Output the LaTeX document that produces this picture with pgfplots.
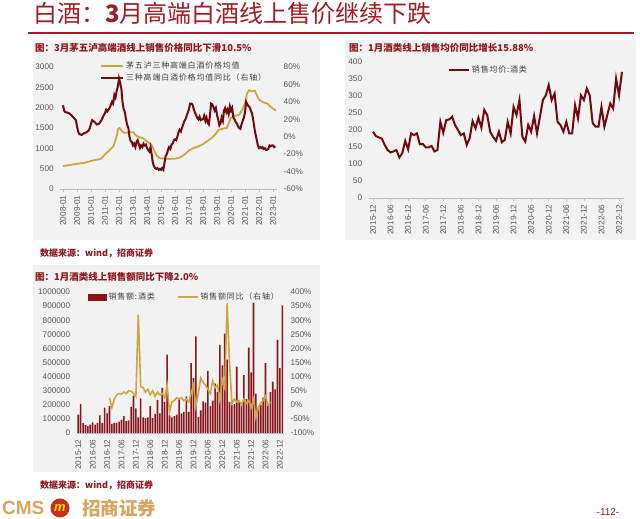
\documentclass[border=0pt]{standalone}
\usepackage{pgfplots}
\usepackage{pgfplotstable}
\pgfplotsset{compat=1.18}
\usepackage{fontspec}
\setmainfont{Liberation Sans}
\newfontfamily\cjk{Noto Sans CJK SC}
\newfontfamily\cjkleg{Noto Sans CJK SC}[LetterSpace=10]
\definecolor{titred}{RGB}{160,30,35}
\definecolor{dred}{RGB}{140,25,30}
\definecolor{gold}{RGB}{205,165,65}
\definecolor{wine}{RGB}{112,10,16}
\definecolor{barred}{RGB}{135,22,26}
\definecolor{panel}{RGB}{242,242,242}
\definecolor{ticktxt}{RGB}{89,89,89}
\definecolor{legtxt}{RGB}{64,64,64}
\definecolor{axgray}{RGB}{191,191,191}
\definecolor{logogold}{RGB}{214,165,95}
\definecolor{logored}{RGB}{200,45,30}

\pgfplotsset{
  /pgf/number format/assume math mode=true,
  /pgf/number format/1000 sep={},
  cms/.style={
    scale only axis,
    anchor=south west,
    tick label style={font=\fontsize{8.2}{9}\selectfont, text=ticktxt},
    major tick length=3pt,
    tick align=outside,
    clip=false,
  },
  leg/.style={legend style={draw=none, fill=none, font=\cjkleg\fontsize{8}{9}\selectfont, text=legtxt, cells={anchor=west}, inner sep=0pt, row sep=0pt}},
}

% Chart 1: gold = price average (left axis), red = YoY (right axis)
\pgfplotstableread{
x y
2008.0 565
2008.5 590
2009.0 620
2009.5 640
2010.0 690
2010.4 720
2010.7 740
2011.0 850
2011.3 950
2011.6 1050
2011.8 1250
2011.95 1480
2012.05 1500
2012.2 1420
2012.4 1380
2012.7 1390
2013.0 1400
2013.2 1320
2013.4 1280
2013.7 1250
2014.0 1170
2014.3 1100
2014.5 950
2014.7 820
2014.9 760
2015.2 750
2015.6 740
2016.0 745
2016.4 780
2016.7 850
2017.0 950
2017.3 1000
2017.7 1050
2018.0 1100
2018.3 1180
2018.6 1250
2018.9 1350
2019.1 1450
2019.4 1480
2019.7 1500
2020.0 1750
2020.3 1800
2020.6 1830
2020.8 1950
2021.0 2100
2021.15 2350
2021.3 2430
2021.5 2400
2021.7 2420
2021.85 2300
2022.0 2200
2022.3 2130
2022.6 2100
2022.9 2000
2023.2 1930
}\goldA

\pgfplotstableread{
x y
2008.00 36
2008.08 30
2008.17 28
2008.25 28
2008.42 27
2008.58 25
2008.75 22
2008.92 19
2009.00 12
2009.08 6
2009.17 3
2009.33 2
2009.50 4
2009.67 5
2009.83 7
2009.92 10
2010.00 15
2010.08 19
2010.25 17
2010.42 14
2010.58 15
2010.75 19
2010.92 25
2011.00 27
2011.08 31
2011.17 29
2011.33 33
2011.50 40
2011.58 38
2011.67 48
2011.75 45
2011.83 52
2011.92 58
2012.00 67
2012.08 62
2012.17 55
2012.25 40
2012.33 32
2012.42 28
2012.50 20
2012.58 14
2012.67 10
2012.75 0
2012.83 -5
2012.92 -6
2013.00 -10
2013.08 -8
2013.17 -12
2013.25 -6
2013.33 -4
2013.42 -9
2013.50 -13
2013.58 -10
2013.67 -12
2013.75 -8
2013.83 -10
2013.92 -9
2014.00 -13
2014.08 -15
2014.17 -17
2014.25 -12
2014.33 -20
2014.42 -30
2014.50 -34
2014.58 -36
2014.67 -37
2014.75 -36
2014.83 -38
2014.92 -37
2015.00 -38
2015.08 -36
2015.17 -38
2015.25 -30
2015.33 -22
2015.42 -20
2015.50 -15
2015.58 -12
2015.67 -14
2015.75 -9
2015.83 -8
2015.92 -4
2016.00 -3
2016.08 -4
2016.17 0
2016.25 5
2016.33 8
2016.42 6
2016.50 10
2016.58 14
2016.67 18
2016.75 20
2016.83 24
2016.92 28
2017.00 32
2017.08 38
2017.17 38
2017.25 37
2017.33 32
2017.42 28
2017.50 25
2017.58 22
2017.67 20
2017.75 23
2017.83 19
2017.92 20
2018.00 20
2018.08 24
2018.17 18
2018.25 22
2018.33 16
2018.42 14
2018.50 25
2018.58 38
2018.67 37
2018.75 34
2018.83 30
2018.92 33
2019.00 25
2019.08 20
2019.17 13
2019.25 15
2019.33 22
2019.42 18
2019.50 30
2019.58 33
2019.67 28
2019.75 31
2019.83 26
2019.92 35
2020.00 30
2020.08 33
2020.17 22
2020.25 20
2020.33 17
2020.42 15
2020.50 12
2020.58 10
2020.67 9
2020.75 14
2020.83 18
2020.92 22
2021.00 28
2021.08 40
2021.17 37
2021.25 35
2021.33 34
2021.42 30
2021.50 27
2021.58 20
2021.67 10
2021.75 3
2021.83 -3
2021.92 -10
2022.00 -13
2022.08 -12
2022.17 -13
2022.25 -12
2022.33 -14
2022.42 -13
2022.50 -15
2022.58 -15
2022.67 -14
2022.75 -10
2022.83 -11
2022.92 -10
2023.00 -10
2023.08 -12
2023.17 -11
}\redA

% Chart 2: monthly average price, index 0 = 2015-12
\pgfplotstableread{
x y
0 195
1 182
2 178
3 175
4 156
5 141
6 134
7 137
8 141
9 119
10 132
11 168
12 143
13 190
14 185
15 190
16 158
17 159
18 149
19 149
20 153
21 137
22 141
23 224
24 192
25 229
26 231
27 239
28 215
29 200
30 185
31 190
32 156
33 176
34 226
35 205
36 236
37 207
38 259
39 244
40 195
41 180
42 168
43 195
44 164
45 171
46 224
47 190
48 268
49 244
50 288
51 180
52 166
53 215
54 195
55 241
56 190
57 239
58 288
59 302
60 332
61 288
62 307
63 224
64 215
65 195
66 224
67 190
68 190
69 273
70 234
71 302
72 288
73 322
74 302
75 220
76 210
77 210
78 268
79 210
80 244
81 278
82 263
83 351
84 302
85 371
}\priceB

% Chart 3: monthly sales (bars) index 0 = 2015-12
\pgfplotstableread{
x y
0 130000
1 205000
2 70000
3 55000
4 48000
5 60000
6 75000
7 60000
8 70000
9 125000
10 70000
11 180000
12 140000
13 190000
14 65000
15 70000
16 72000
17 80000
18 95000
19 120000
20 85000
21 90000
22 185000
23 265000
24 175000
25 110000
26 245000
27 110000
28 105000
29 110000
30 190000
31 105000
32 135000
33 235000
34 140000
35 320000
36 220000
37 555000
38 125000
39 110000
40 120000
41 130000
42 240000
43 140000
44 150000
45 260000
46 150000
47 495000
48 390000
49 685000
50 115000
51 160000
52 225000
53 215000
54 440000
55 190000
56 230000
57 350000
58 290000
59 625000
60 480000
61 705000
62 520000
63 220000
64 200000
65 205000
66 470000
67 220000
68 200000
69 410000
70 240000
71 605000
72 430000
73 925000
74 280000
75 180000
76 200000
77 250000
78 495000
79 210000
80 290000
81 365000
82 310000
83 660000
84 460000
85 905000
}\salesC

\pgfplotstableread{
x y
13 25
14 -10
15 20
16 35
17 40
18 38
19 45
20 40
21 50
22 48
23 40
24 30
25 320
26 65
27 60
28 45
29 55
30 35
31 50
32 30
33 45
34 35
35 40
36 25
37 70
38 -25
39 10
40 15
41 25
42 20
43 25
44 15
45 20
46 10
47 40
48 70
49 -5
50 40
51 95
52 80
53 70
54 55
55 40
56 85
57 60
58 70
59 15
60 90
61 60
62 360
63 150
64 5
65 20
66 10
67 15
68 0
69 20
70 5
71 15
72 -10
73 20
74 -45
75 -10
76 5
77 15
78 30
79 0
80 10
}\yoyC

\begin{document}
\begin{tikzpicture}[x=1pt,y=1pt]
\path[fill=white] (0pt,0pt) rectangle (640pt,519pt);
% header
\node[anchor=west, inner sep=0pt, text=titred] at (33pt,506pt) {\cjk\fontsize{24}{24}\selectfont 白酒：\textbf{3}月高端白酒线上售价继续下跌};
\draw[titred, line width=1.5pt] (28pt,486pt) -- (634pt,486pt);
% panels
\fill[panel] (33pt,279pt) rectangle (320pt,479pt);
\fill[panel] (345pt,279pt) rectangle (636pt,479pt);
\fill[panel] (33pt,47pt) rectangle (320pt,254pt);
\node[anchor=west, inner sep=0pt, text=dred] at (35pt,471pt) {\cjk\bfseries\fontsize{9.5}{10}\selectfont 图：3月茅五泸高端酒线上销售价格同比下滑10.5\%};
\node[anchor=west, inner sep=0pt, text=dred] at (349pt,471pt) {\cjk\bfseries\fontsize{9.5}{10}\selectfont 图：1月酒类线上销售均价同比增长15.88\%};
\node[anchor=west, inner sep=0pt, text=dred] at (35pt,242pt) {\cjk\bfseries\fontsize{9.5}{10}\selectfont 图：1月酒类线上销售额同比下降2.0\%};
\node[anchor=west, inner sep=0pt, text=dred] at (40pt,266pt) {\cjk\bfseries\fontsize{9}{10}\selectfont 数据来源：wind，招商证券};
\node[anchor=west, inner sep=0pt, text=dred] at (40pt,34pt) {\cjk\bfseries\fontsize{9}{10}\selectfont 数据来源：wind，招商证券};
% footer
\node[anchor=west, inner sep=0pt, text=logogold] at (2pt,11pt) {\fontsize{19}{19}\selectfont\bfseries CMS};
\fill[logored] (60pt,11pt) circle (9.5pt);
\node[text=yellow!80!orange, inner sep=0pt] at (60pt,11pt) {\fontsize{13}{13}\selectfont\bfseries\itshape m};
\node[anchor=west, inner sep=0pt, text=logogold] at (82pt,11pt) {\cjk\bfseries\fontsize{18.5}{19}\selectfont 招商证券};
\node[text=dred, inner sep=0pt] at (608pt,7pt) {\fontsize{10}{10}\selectfont -112-};

% ---------- Chart 1 ----------
\begin{axis}[cms, at={(60.2pt,330pt)}, width=217pt, height=122pt,
  xmin=2007.8, xmax=2023.3, ymin=0, ymax=3000,
  axis x line*=bottom, axis y line*=left,
  x axis line style={draw=axgray, line width=0.6pt},
  y axis line style={draw=none},
  xtick={2008,...,2023},
  xticklabels={2008-01,2009-01,2010-01,2011-01,2012-01,2013-01,2014-01,2015-01,2016-01,2017-01,2018-01,2019-01,2020-01,2021-01,2022-01,2023-01},
  xticklabel style={rotate=90, anchor=east},
  x tick style={draw=axgray, line width=0.6pt},
  ytick={0,500,...,3000}, y tick style={draw=none},
]
\addplot[gold, line width=1.8pt] table {\goldA};
\end{axis}
\begin{axis}[cms, at={(60.2pt,330pt)}, width=217pt, height=122pt,
  xmin=2007.8, xmax=2023.3, ymin=-60, ymax=80,
  axis x line=none, axis y line*=right, y axis line style={draw=none},
  ytick={-60,-40,...,80}, y tick style={draw=none},
  yticklabel={\pgfmathprintnumber{\tick}\%},
  leg, legend style={at={(0.183,1.06)}, anchor=north west},
]
\addlegendimage{legend image code/.code={\draw[gold, line width=1.8pt] (0pt,0pt) -- (22pt,0pt);}}
\addlegendentry{茅五泸三种高端白酒价格均值}
\addplot[wine, line width=2pt, legend image code/.code={\draw[wine, line width=2pt] (0pt,0pt) -- (22pt,0pt);}] table {\redA};
\addlegendentry{三种高端白酒价格均值同比（右轴）}
\end{axis}

% ---------- Chart 2 ----------
\begin{axis}[cms, at={(368.6pt,321pt)}, width=255.4pt, height=136pt,
  xmin=-1.5, xmax=85.7, ymin=0, ymax=400,
  axis x line*=bottom, axis y line*=left,
  x axis line style={draw=axgray, line width=0.6pt},
  y axis line style={draw=none},
  xtick={0,6,...,84},
  xticklabels={2015-12,2016-06,2016-12,2017-06,2017-12,2018-06,2018-12,2019-06,2019-12,2020-06,2020-12,2021-06,2021-12,2022-06,2022-12},
  xticklabel style={rotate=90, anchor=east},
  x tick style={draw=axgray, line width=0.6pt},
  ytick={0,50,...,400}, y tick style={draw=none},
  leg, legend style={at={(0.31,0.985)}, anchor=north west},
]
\addplot[wine, line width=2pt, legend image code/.code={\draw[wine, line width=2pt] (0pt,0pt) -- (20pt,0pt);}] table {\priceB};
\addlegendentry{销售均价:酒类}
\end{axis}

% ---------- Chart 3 ----------
\begin{axis}[cms, at={(76.6pt,86pt)}, width=207.4pt, height=141pt,
  xmin=-0.7, xmax=85.7, ymin=0, ymax=1000000,
  scaled y ticks=false,
  axis x line*=bottom, axis y line*=left,
  x axis line style={draw=axgray, line width=0.6pt},
  y axis line style={draw=none},
  xtick={0,6,...,84},
  xticklabels={2015-12,2016-06,2016-12,2017-06,2017-12,2018-06,2018-12,2019-06,2019-12,2020-06,2020-12,2021-06,2021-12,2022-06,2022-12},
  xticklabel style={rotate=90, anchor=east},
  x tick style={draw=none},
  ytick={0,100000,...,1000000}, y tick style={draw=none},
  yticklabel style={/pgf/number format/fixed, /pgf/number format/precision=0},
]
\addplot[ybar, bar width=1.6pt, fill=barred, draw=none] table {\salesC};
\end{axis}
\begin{axis}[cms, at={(76.6pt,86pt)}, width=207.4pt, height=141pt,
  xmin=-0.7, xmax=85.7, ymin=-100, ymax=400,
  axis x line=none, axis y line*=right, y axis line style={draw=none},
  ytick={-100,-50,...,400}, y tick style={draw=none},
  yticklabel={\pgfmathprintnumber{\tick}\%},
  leg, legend columns=2,
  legend style={at={(0.055,1.01)}, anchor=north west, /tikz/every even column/.append style={column sep=20pt}},
]
\addlegendimage{legend image code/.code={\fill[barred] (0pt,-3pt) rectangle (18pt,3pt);}}
\addlegendentry{销售额:酒类}
\addplot[gold, line width=1.6pt, legend image code/.code={\draw[gold, line width=1.6pt] (0pt,0pt) -- (20pt,0pt);}] table {\yoyC};
\addlegendentry{销售额同比（右轴）}
\end{axis}
\end{tikzpicture}
\end{document}
